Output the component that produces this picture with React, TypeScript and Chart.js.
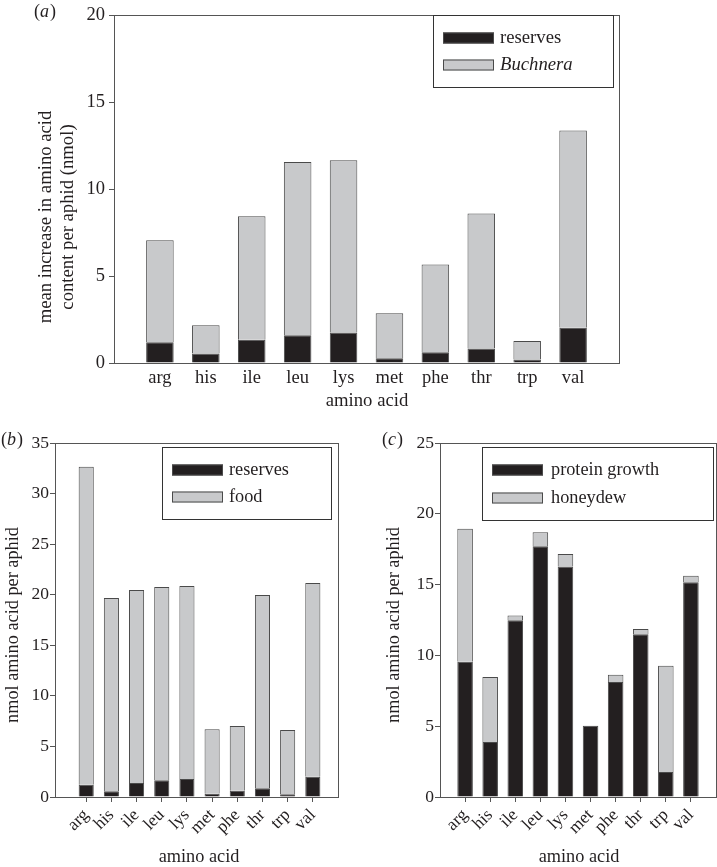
import React, { useEffect, useRef } from "react";
import { Chart, registerables } from "chart.js";

Chart.register(...registerables);

// ---------- data ----------
const aminoAcids = ["arg", "his", "ile", "leu", "lys", "met", "phe", "thr", "trp", "val"];

// panel (a): mean increase in amino acid content per aphid (nmol)
const aReserves = [1.19, 0.54, 1.34, 1.6, 1.75, 0.28, 0.62, 0.83, 0.2, 2.02];
const aBuchnera = [5.86, 1.63, 7.09, 9.95, 9.91, 2.58, 5.04, 7.77, 1.06, 11.35];
const aYTicks = [0, 5, 10, 15, 20];

// panel (b): nmol amino acid per aphid
const bReserves = [1.22, 0.56, 1.38, 1.65, 1.78, 0.33, 0.63, 0.86, 0.26, 2.01];
const bFood = [31.44, 19.12, 19.09, 19.11, 19.08, 6.36, 6.39, 19.11, 6.36, 19.15];
const bYTicks = [0, 5, 10, 15, 20, 25, 30, 35];

// panel (c): nmol amino acid per aphid
const cProteinGrowth = [9.56, 3.88, 12.48, 17.7, 16.27, 5.04, 8.12, 11.49, 1.77, 15.16];
const cHoneydew = [9.39, 4.59, 0.33, 0.99, 0.89, 0, 0.52, 0.37, 7.5, 0.47];
const cYTicks = [0, 5, 10, 15, 20, 25];

// ---------- styles ----------
const FONT = "'Liberation Serif', 'Times New Roman', serif";
const INK = "#231f20";
const BLACK = "#231f20";
const GREY = "#c8c9cb";
const EDGE = "#4a4a4a";
const FRAME = "#555555";

type Seg = { label: string; italic?: boolean; values: number[]; color: string };

type Spec = {
  left: number; top: number; width: number; height: number;
  pad: { top: number; right: number };
  yW: number; xH: number;
  xMin: number; xMax: number;
  yTicks: number[];
  yFont: number; yTickPad: number;
  xFont: number; xRot: number; xTickPad: number; xTickMarks: boolean;
  titleFont: number;
  barPct: number;
  series: Seg[];
  legend: { box: [number, number, number, number]; sw: [number, number]; rows: number[]; textX: number };
  yTitle: { lines: string[]; xs: number[]; y: number };
  xTitle: { text: string; x: number; y: number };
  tag: { letter: string; x: number; y: number };
};

function drawTag(ctx: CanvasRenderingContext2D, letter: string, x: number, y: number) {
  ctx.textBaseline = "middle";
  ctx.textAlign = "left";
  ctx.font = `18px ${FONT}`;
  ctx.fillText("(", x, y);
  let cx = x + ctx.measureText("(").width;
  ctx.font = `italic 18px ${FONT}`;
  ctx.fillText(letter, cx, y);
  cx += ctx.measureText(letter).width + 1;
  ctx.font = `18px ${FONT}`;
  ctx.fillText(")", cx, y);
}

function decorPlugin(spec: Spec) {
  return {
    id: "decor",
    afterDraw(chart: any) {
      const { ctx, chartArea: ca } = chart;
      ctx.save();
      // frame
      ctx.strokeStyle = FRAME;
      ctx.lineWidth = 1;
      ctx.strokeRect(Math.round(ca.left) + 0.5, Math.round(ca.top) + 0.5, Math.round(ca.right - ca.left), Math.round(ca.bottom - ca.top));
      // legend
      const [x1, y1, x2, y2] = spec.legend.box;
      ctx.fillStyle = "#ffffff";
      ctx.fillRect(x1, y1, x2 - x1, y2 - y1);
      ctx.strokeStyle = "#333333";
      ctx.strokeRect(x1 + 0.5, y1 + 0.5, x2 - x1, y2 - y1);
      spec.series.forEach((s, i) => {
        const cy = spec.legend.rows[i];
        const [sx1, sx2] = spec.legend.sw;
        ctx.fillStyle = s.color;
        ctx.fillRect(sx1, cy - 5.5, sx2 - sx1, 11);
        ctx.strokeStyle = EDGE;
        ctx.strokeRect(sx1 + 0.5, cy - 5.5 + 0.5, sx2 - sx1 - 1, 10);
        ctx.fillStyle = INK;
        ctx.font = `${s.italic ? "italic " : ""}${spec.titleFont}px ${FONT}`;
        ctx.textAlign = "left";
        ctx.textBaseline = "middle";
        ctx.fillText(s.label, spec.legend.textX, cy);
      });
      // titles
      ctx.fillStyle = INK;
      ctx.font = `${spec.titleFont}px ${FONT}`;
      ctx.textAlign = "center";
      ctx.textBaseline = "middle";
      ctx.fillText(spec.xTitle.text, spec.xTitle.x, spec.xTitle.y);
      spec.yTitle.lines.forEach((line, i) => {
        ctx.save();
        ctx.translate(spec.yTitle.xs[i], spec.yTitle.y);
        ctx.rotate(-Math.PI / 2);
        ctx.fillText(line, 0, 0);
        ctx.restore();
      });
      drawTag(ctx, spec.tag.letter, spec.tag.x, spec.tag.y);
      ctx.restore();
    },
  };
}

function Panel({ spec }: { spec: Spec }) {
  const ref = useRef<HTMLCanvasElement | null>(null);
  useEffect(() => {
    if (!ref.current) return;
    const chart = new Chart(ref.current, {
      type: "bar",
      data: {
        datasets: spec.series.map((s) => ({
          label: s.label,
          data: s.values.map((v, i) => ({ x: i, y: v })),
          backgroundColor: s.color,
          borderColor: EDGE,
          borderWidth: 1,
          barPercentage: spec.barPct,
          categoryPercentage: 1,
        })),
      },
      options: {
        responsive: false,
        animation: false,
        devicePixelRatio: 1,
        layout: { padding: { top: spec.pad.top, right: spec.pad.right, left: 0, bottom: 0 } },
        plugins: { legend: { display: false }, tooltip: { enabled: false } },
        scales: {
          x: {
            type: "linear",
            min: spec.xMin,
            max: spec.xMax,
            offset: false,
            stacked: true,
            afterBuildTicks: (s: any) => {
              s.ticks = aminoAcids.map((_, i) => ({ value: i }));
            },
            afterFit: (s: any) => {
              s.height = spec.xH;
            },
            ticks: {
              autoSkip: false,
              maxRotation: spec.xRot,
              minRotation: spec.xRot,
              padding: spec.xTickPad,
              color: INK,
              font: { family: FONT, size: spec.xFont },
              callback: (v: any) => aminoAcids[v] ?? "",
            },
            grid: {
              display: true,
              offset: false,
              drawOnChartArea: false,
              drawTicks: spec.xTickMarks,
              tickLength: 5,
              color: FRAME,
            },
            border: { display: true, color: FRAME, width: 1 },
          },
          y: {
            type: "linear",
            min: spec.yTicks[0],
            max: spec.yTicks[spec.yTicks.length - 1],
            stacked: true,
            afterBuildTicks: (s: any) => {
              s.ticks = spec.yTicks.map((v) => ({ value: v }));
            },
            afterFit: (s: any) => {
              s.width = spec.yW;
            },
            ticks: {
              padding: spec.yTickPad,
              color: INK,
              font: { family: FONT, size: spec.yFont },
            },
            grid: {
              display: true,
              drawOnChartArea: false,
              drawTicks: true,
              tickLength: 5,
              color: FRAME,
            },
            border: { display: true, color: FRAME, width: 1 },
          },
        },
      } as any,
      plugins: [decorPlugin(spec)],
    });
    return () => chart.destroy();
  }, [spec]);
  return (
    <div style={{ position: "absolute", left: spec.left, top: spec.top, width: spec.width, height: spec.height }}>
      <canvas ref={ref} width={spec.width} height={spec.height} style={{ display: "block" }} />
    </div>
  );
}

const specA: Spec = {
  left: 0, top: 0, width: 717, height: 410,
  pad: { top: 10, right: 98 },
  yW: 114, xH: 47,
  xMin: -1, xMax: 10,
  yTicks: aYTicks, yFont: 18.5, yTickPad: 4,
  xFont: 18.5, xRot: 0, xTickPad: 4, xTickMarks: false,
  titleFont: 18.7,
  barPct: 0.6,
  series: [
    { label: "reserves", values: aReserves, color: BLACK },
    { label: "Buchnera", italic: true, values: aBuchnera, color: GREY },
  ],
  legend: { box: [433, 15, 613, 87], sw: [443, 494], rows: [38, 65], textX: 500 },
  yTitle: { lines: ["mean increase in amino acid", "content per aphid (nmol)"], xs: [46, 68], y: 217 },
  xTitle: { text: "amino acid", x: 367, y: 401 },
  tag: { letter: "a", x: 34, y: 12 },
};

const specB: Spec = {
  left: 0, top: 410, width: 358, height: 457,
  pad: { top: 33, right: 20 },
  yW: 55, xH: 70,
  xMin: -1.24, xMax: 10,
  yTicks: bYTicks, yFont: 17.5, yTickPad: 1,
  xFont: 17.5, xRot: 45, xTickPad: 3, xTickMarks: true,
  titleFont: 18.3,
  barPct: 0.6,
  series: [
    { label: "reserves", values: bReserves, color: BLACK },
    { label: "food", values: bFood, color: GREY },
  ],
  legend: { box: [162, 37, 331, 109], sw: [172, 223], rows: [60, 87], textX: 229 },
  yTitle: { lines: ["nmol amino acid per aphid"], xs: [13], y: 215 },
  xTitle: { text: "amino acid", x: 199, y: 447 },
  tag: { letter: "b", x: 1, y: 30 },
};

const specC: Spec = {
  left: 358, top: 410, width: 359, height: 457,
  pad: { top: 33, right: 1 },
  yW: 82, xH: 70,
  xMin: -1, xMax: 10,
  yTicks: cYTicks, yFont: 17.5, yTickPad: 1,
  xFont: 17.5, xRot: 45, xTickPad: 3, xTickMarks: true,
  titleFont: 18.3,
  barPct: 0.62,
  series: [
    { label: "protein growth", values: cProteinGrowth, color: BLACK },
    { label: "honeydew", values: cHoneydew, color: GREY },
  ],
  legend: { box: [124, 37, 355, 110], sw: [134, 185], rows: [60, 88], textX: 193 },
  yTitle: { lines: ["nmol amino acid per aphid"], xs: [36], y: 215 },
  xTitle: { text: "amino acid", x: 221, y: 447 },
  tag: { letter: "c", x: 24, y: 30 },
};

export default function App() {
  return (
    <div style={{ position: "absolute", left: 0, top: 0, width: 717, height: 867, background: "#ffffff" }}>
      <Panel spec={specA} />
      <Panel spec={specB} />
      <Panel spec={specC} />
    </div>
  );
}
